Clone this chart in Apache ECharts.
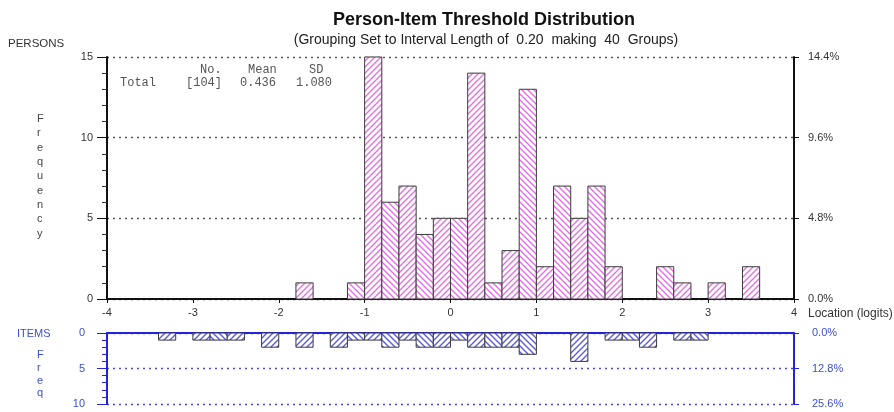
<!DOCTYPE html>
<html>
<head>
<meta charset="utf-8">
<script src="https://cdn.jsdelivr.net/npm/echarts@6/dist/echarts.min.js"></script>
<style>
html,body{margin:0;padding:0;background:#fff;}
#chart{width:894px;height:412px;}
</style>
</head>
<body>
<div id="chart"></div>
<script>
// ---- data ----
const binLower = [-4.0,-3.8,-3.6,-3.4,-3.2,-3.0,-2.8,-2.6,-2.4,-2.2,-2.0,-1.8,-1.6,-1.4,-1.2,-1.0,-0.8,-0.6,-0.4,-0.2,
                  0.0,0.2,0.4,0.6,0.8,1.0,1.2,1.4,1.6,1.8,2.0,2.2,2.4,2.6,2.8,3.0,3.2,3.4,3.6,3.8];
const binWidth = 0.2;
const personCounts = [0,0,0,0,0,0,0,0,0,0,0,1,0,0,1,15,6,7,4,5,
                      5,14,1,3,13,2,7,5,7,2,0,0,2,1,0,1,0,2,0,0];
const itemCounts   = [0,0,0,1,0,1,1,1,0,2,0,2,0,2,1,1,2,1,2,2,
                      1,2,2,2,3,0,0,4,0,1,1,2,0,1,1,0,0,0,0,0];
const xTicks = [-4,-3,-2,-1,0,1,2,3,4];
const personStats = {no:104, mean:'0.436', sd:'1.080'};

const personTotal = personCounts.reduce((a,b)=>a+b,0);
const itemTotal = itemCounts.reduce((a,b)=>a+b,0);

function hatch(color, dir){
  const s = 6;
  const c = document.createElement('canvas');
  c.width = s; c.height = s;
  const g = c.getContext('2d');
  g.fillStyle = '#fff'; g.fillRect(0,0,s,s);
  g.strokeStyle = color; g.lineWidth = 1.4;
  g.beginPath();
  if(dir === '/'){
    g.moveTo(-1, s+1); g.lineTo(s+1, -1);
    g.moveTo(-1, 1); g.lineTo(1, -1);
    g.moveTo(s-1, s+1); g.lineTo(s+1, s-1);
  } else {
    g.moveTo(-1, -1); g.lineTo(s+1, s+1);
    g.moveTo(-1, s-1); g.lineTo(1, s+1);
    g.moveTo(s-1, -1); g.lineTo(s+1, 1);
  }
  g.stroke();
  return {image:c, repeat:'repeat'};
}
const pinkA = hatch('#e270e2','/'), pinkB = hatch('#e270e2','\\');
const blueA = hatch('#5c5cd8','/'), blueB = hatch('#5c5cd8','\\');

function makeRender(pa, pb){
  return function(params, api){
    const v = api.value(2);
    if(!v) return null;
    const p0 = api.coord([api.value(0), 0]);
    const p1 = api.coord([api.value(1), v]);
    const idx = api.value(3);
    return {
      type:'rect',
      shape:{x:p0[0], y:Math.min(p0[1],p1[1]), width:p1[0]-p0[0], height:Math.abs(p1[1]-p0[1])},
      style:{fill: idx % 2 === 1 ? pa : pb, stroke:'#3a3a3a', lineWidth:1}
    };
  };
}

const personData = binLower.map((b,i)=>[b, +(b+binWidth).toFixed(2), personCounts[i], i]);
const itemData = binLower.map((b,i)=>[b, +(b+binWidth).toFixed(2), itemCounts[i], i]);

const BLUE = '#2323d8';
const LBLUE = '#3b4fd0';
const font = 'Liberation Sans, Arial, sans-serif';
const mono = '12px Liberation Mono, Courier New, monospace';

const chart = echarts.init(document.getElementById('chart'), null, {renderer:'canvas'});
chart.setOption({
  animation:false,
  backgroundColor:'#fff',
  textStyle:{fontFamily:font},
  title:[
    {text:'Person-Item Threshold Distribution', left:479, top:6, textAlign:'center',
     textStyle:{fontSize:18, fontWeight:'bold', color:'#111', fontFamily:font}},
    {text:'(Grouping Set to Interval Length of  0.20  making  40  Groups)', left:481, top:28, textAlign:'center',
     textStyle:{fontSize:14, fontWeight:'normal', color:'#222', fontFamily:font}}
  ],
  grid:[
    {left:107, right:100, top:57, height:242},
    {left:107, right:100, top:333, height:71}
  ],
  xAxis:[
    {gridIndex:0, type:'value', min:-4, max:4, interval:1,
     axisLine:{onZero:false, lineStyle:{color:'#111', width:2}},
     axisTick:{show:true, length:4, lineStyle:{color:'#111'}},
     axisLabel:{color:'#333', fontSize:11, margin:8},
     splitLine:{show:false}},
    {gridIndex:1, type:'value', min:-4, max:4, interval:1, position:'top',
     axisLine:{onZero:false, lineStyle:{color:BLUE, width:2}},
     axisTick:{show:false}, axisLabel:{show:false}, splitLine:{show:false}}
  ],
  yAxis:[
    {gridIndex:0, type:'value', min:0, max:15, interval:5, position:'left',
     axisLine:{show:true, onZero:false, lineStyle:{color:'#111', width:2}},
     axisTick:{show:true, length:10, lineStyle:{color:'#111'}},
     minorTick:{show:true, splitNumber:5, length:5, lineStyle:{color:'#333'}},
     axisLabel:{color:'#333', fontSize:11, margin:14},
     splitLine:{show:true, lineStyle:{color:'#555', type:[2,4], width:1.3}}},
    {gridIndex:0, type:'value', min:0, max:15, interval:5, position:'right',
     axisLine:{show:true, onZero:false, lineStyle:{color:'#111', width:2}},
     axisTick:{show:true, length:5, lineStyle:{color:'#111'}},
     axisLabel:{color:'#333', fontSize:11, margin:14,
       formatter:v=>(v/personTotal*100).toFixed(1)+'%'},
     splitLine:{show:false}},
    {gridIndex:1, type:'value', min:0, max:10, interval:5, inverse:true, position:'left',
     axisLine:{show:true, onZero:false, lineStyle:{color:BLUE, width:2}},
     axisTick:{show:true, length:10, lineStyle:{color:BLUE}},
     minorTick:{show:true, splitNumber:5, length:5, lineStyle:{color:BLUE}},
     axisLabel:{color:LBLUE, fontSize:11, margin:22},
     splitLine:{show:true, lineStyle:{color:'#4a4ae0', type:[2,4], width:1.3}}},
    {gridIndex:1, type:'value', min:0, max:10, interval:5, inverse:true, position:'right',
     axisLine:{show:true, onZero:false, lineStyle:{color:BLUE, width:2}},
     axisTick:{show:true, length:5, lineStyle:{color:BLUE}},
     axisLabel:{color:LBLUE, fontSize:11, margin:18,
       formatter:v=>(v/itemTotal*100).toFixed(1)+'%'},
     splitLine:{show:false}}
  ],
  series:[
    {type:'custom', xAxisIndex:0, yAxisIndex:0, data:personData,
     encode:{x:[0,1], y:2}, renderItem:makeRender(pinkA,pinkB), clip:false, z:5},
    {type:'custom', xAxisIndex:1, yAxisIndex:2, data:itemData,
     encode:{x:[0,1], y:2}, renderItem:makeRender(blueA,blueB), clip:false, z:5}
  ],
  graphic:[
    {type:'text', left:8, top:38, style:{text:'PERSONS', fill:'#333', font:'11.5px '+font}},
    {type:'text', left:37, top:112, style:{text:'F\nr\ne\nq\nu\ne\nn\nc\ny', fill:'#444', font:'11px '+font, lineHeight:14.3, align:'center'}},
    {type:'text', left:808, top:308, style:{text:'Location (logits)', fill:'#333', font:'12px '+font}},
    {type:'text', left:17, top:328, style:{text:'ITEMS', fill:LBLUE, font:'11px '+font}},
    {type:'text', left:37, top:349, style:{text:'F\nr\ne\nq', fill:LBLUE, font:'11px '+font, lineHeight:12.7, align:'center'}},
    {type:'text', left:200, top:64, style:{text:'No.', fill:'#555', font:mono}},
    {type:'text', left:248, top:64, style:{text:'Mean', fill:'#555', font:mono}},
    {type:'text', left:309, top:64, style:{text:'SD', fill:'#555', font:mono}},
    {type:'text', left:120, top:77, style:{text:'Total', fill:'#555', font:mono}},
    {type:'text', left:186, top:77, style:{text:'['+personStats.no+']', fill:'#555', font:mono}},
    {type:'text', left:240, top:77, style:{text:personStats.mean, fill:'#555', font:mono}},
    {type:'text', left:296, top:77, style:{text:personStats.sd, fill:'#555', font:mono}}
  ]
});
</script>
</body>
</html>
